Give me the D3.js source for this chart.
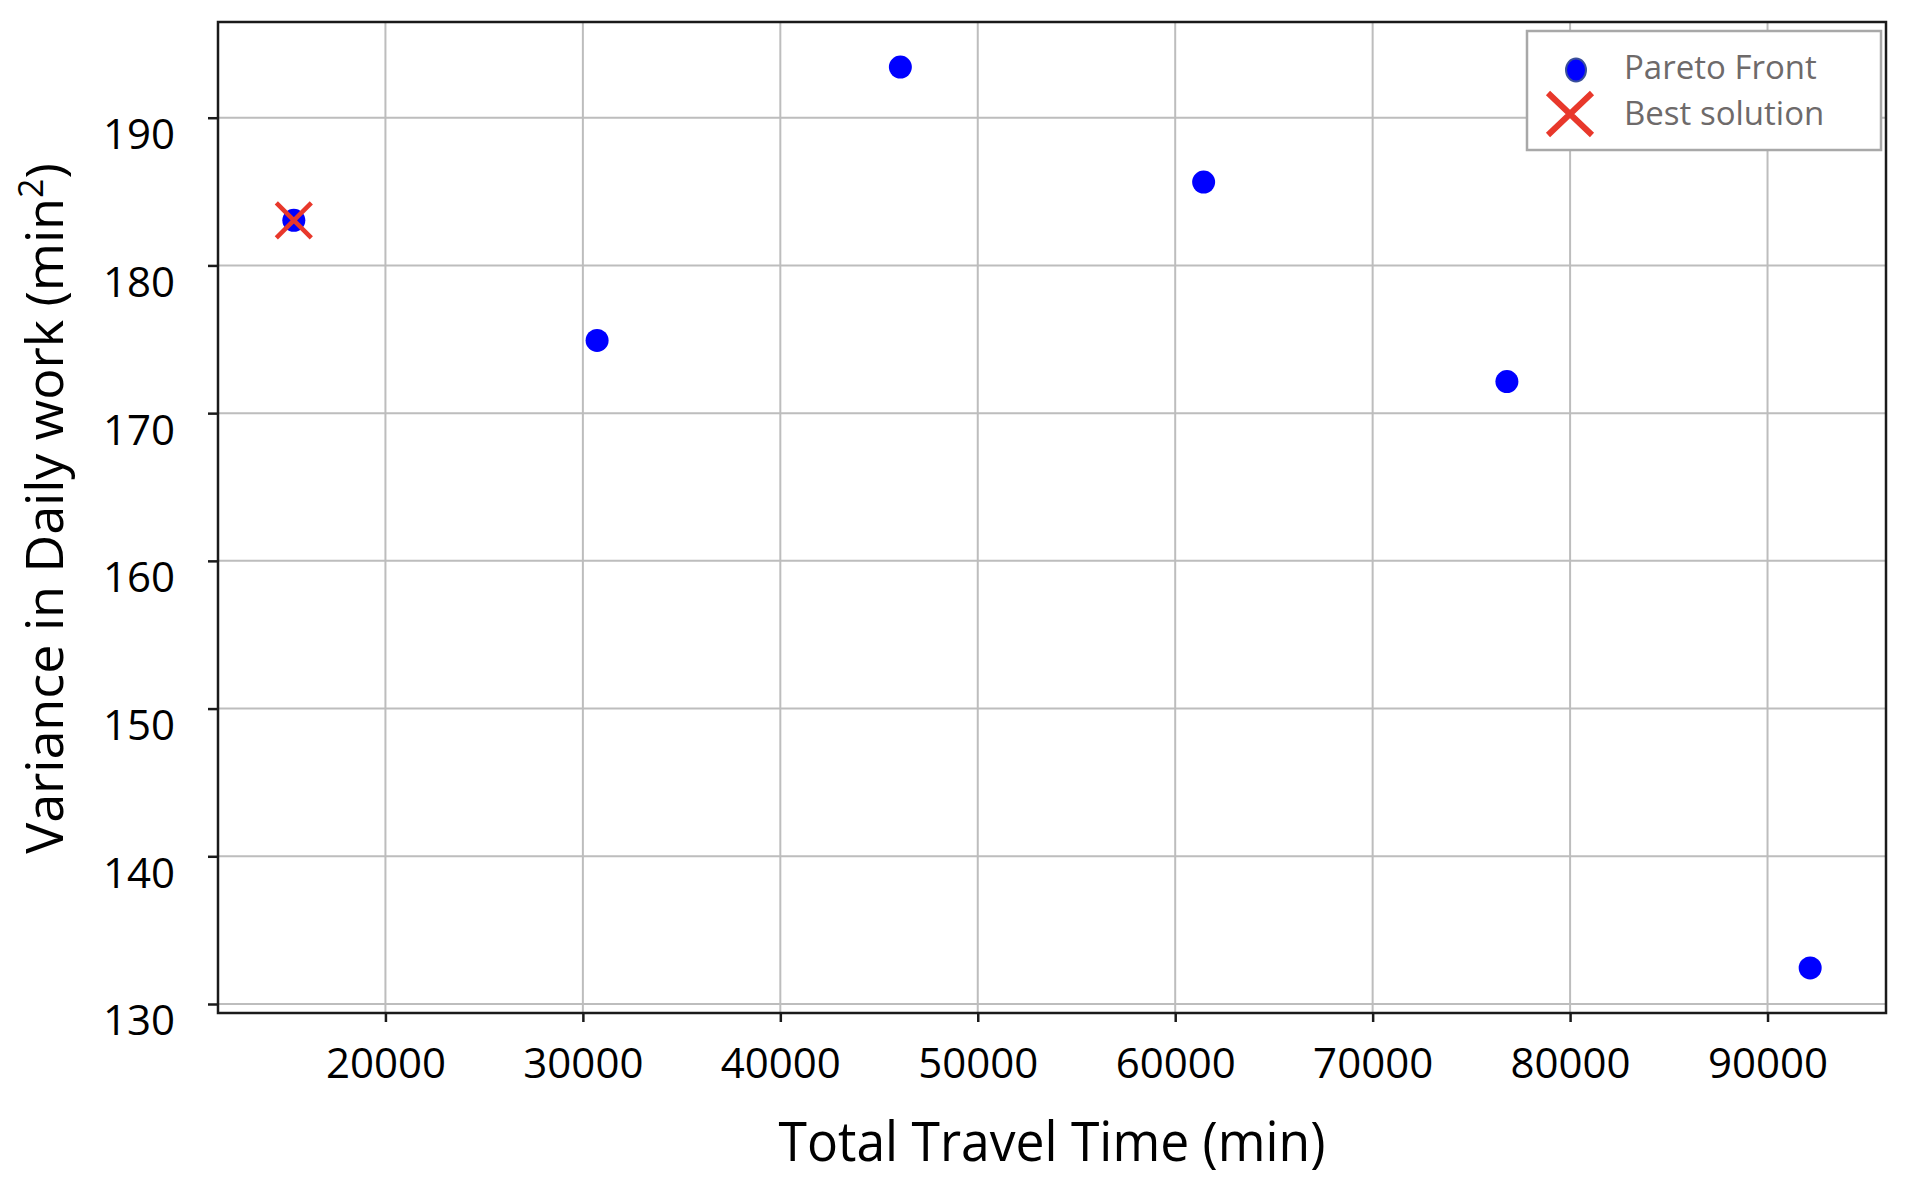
<!DOCTYPE html>
<html>
<head>
<meta charset="utf-8">
<script src="https://cdn.jsdelivr.net/npm/d3@7"></script>
<style>
  html, body { margin: 0; padding: 0; background: #ffffff; }
  svg { display: block; }
  text { font-family: "Open Sans", "Noto Sans", sans-serif; }
</style>
</head>
<body>
<svg id="chart" width="1906" height="1186"></svg>
<script>
// ---- data ----
const travelTime = [15360, 30720, 46080, 61440, 76800, 92160];
const dailyVariance = [183.05, 174.92, 193.43, 185.64, 172.14, 132.44];
const bestTravelTime = [15360];
const bestVariance = [183.05];
const xTickValues = [20000, 30000, 40000, 50000, 60000, 70000, 80000, 90000];
const yTickValues = [130, 140, 150, 160, 170, 180, 190];
const legendLabels = ["Pareto Front", "Best solution"];
const xLabel = "Total Travel Time (min)";
const yLabel = "Variance in Daily work (min";

// ---- layout ----
const W = 1906, H = 1186;
const plot = { left: 218, right: 1886, top: 22, bottom: 1013 };

const svg = d3.select("#chart");
svg.append("rect").attr("width", W).attr("height", H).attr("fill", "#ffffff");

function padded(vals) {
  const [a, b] = d3.extent(vals);
  const p = (b - a) * 0.05;
  return [a - p, b + p];
}

const x = d3.scaleLinear().domain(padded(travelTime)).range([plot.left, plot.right]);
const y = d3.scaleLinear().domain(padded(dailyVariance)).range([plot.bottom, plot.top]);

// grid
const grid = svg.append("g");
grid.selectAll("line.vx").data(xTickValues).join("line")
  .attr("x1", d => x(d)).attr("x2", d => x(d))
  .attr("y1", plot.top).attr("y2", plot.bottom)
  .attr("stroke", "#bdbdbd").attr("stroke-width", 2);
grid.selectAll("line.hy").data(yTickValues).join("line")
  .attr("y1", d => y(d)).attr("y2", d => y(d))
  .attr("x1", plot.left).attr("x2", plot.right)
  .attr("stroke", "#bdbdbd").attr("stroke-width", 2);

// axes
const xAxis = d3.axisBottom(x).tickValues(xTickValues).tickSize(9).tickPadding(0).tickFormat(d3.format("d"));
const yAxis = d3.axisLeft(y).tickValues(yTickValues).tickSize(10).tickPadding(0).tickFormat(d3.format("d"));

const gx = svg.append("g").attr("transform", `translate(0,${plot.bottom})`).call(xAxis);
const gy = svg.append("g").attr("transform", `translate(${plot.left},0)`).call(yAxis);
[gx, gy].forEach(g => {
  g.select(".domain").remove();
  g.selectAll(".tick line").attr("stroke", "#1a1a1a").attr("stroke-width", 2.5);
  g.selectAll(".tick text").attr("fill", "#000").attr("font-size", 42)
    .attr("font-family", "'Open Sans', sans-serif");
});
gx.selectAll(".tick text").attr("y", 0).attr("dy", 0)
  .attr("transform", "translate(0,65)").attr("text-anchor", "middle");
gy.selectAll(".tick text").attr("x", -43).attr("dy", 0)
  .attr("transform", "translate(0,31)").attr("text-anchor", "end");

// points
svg.append("g").selectAll("circle").data(travelTime).join("circle")
  .attr("cx", d => x(d))
  .attr("cy", (d, i) => y(dailyVariance[i]))
  .attr("r", 11.5)
  .attr("fill", "#0000ff");

// best solution cross
const cross = d3.symbol().type(d3.symbolX).size(1);
const arm = 17.5;
const bestG = svg.append("g");
bestTravelTime.forEach((bx, i) => {
  const cx = x(bx), cy = y(bestVariance[i]);
  bestG.append("path")
    .attr("d", `M${cx - arm},${cy - arm}L${cx + arm},${cy + arm}M${cx - arm},${cy + arm}L${cx + arm},${cy - arm}`)
    .attr("stroke", "#e8382b").attr("stroke-width", 4.5).attr("fill", "none");
});

// frame
svg.append("rect")
  .attr("x", plot.left).attr("y", plot.top)
  .attr("width", plot.right - plot.left).attr("height", plot.bottom - plot.top)
  .attr("fill", "none").attr("stroke", "#1a1a1a").attr("stroke-width", 2.5);

// legend
const lg = svg.append("g");
lg.append("rect").attr("x", 1527).attr("y", 31).attr("width", 354).attr("height", 119)
  .attr("fill", "#ffffff").attr("stroke", "#a8a8a8").attr("stroke-width", 2.5);
lg.append("ellipse").attr("cx", 1576).attr("cy", 70).attr("rx", 10).attr("ry", 11.5)
  .attr("fill", "#0000ff").attr("stroke", "#3a4f9a").attr("stroke-width", 2);
lg.append("path")
  .attr("d", "M1548,93L1592,135M1548,135L1592,93")
  .attr("stroke", "#e8382b").attr("stroke-width", 6).attr("fill", "none");
lg.selectAll("text").data(legendLabels).join("text")
  .attr("x", 1624).attr("y", (d, i) => 79 + i * 46)
  .attr("font-size", 33).attr("fill", "#6e6a6a")
  .text(d => d)
  .each(function(d, i) {
    const target = [197, 204][i];
    const len = this.getComputedTextLength();
    if (len > target) d3.select(this).attr("textLength", target).attr("lengthAdjust", "spacingAndGlyphs");
  });

// axis titles
const xt = svg.append("text")
  .attr("x", (plot.left + plot.right) / 2).attr("y", 1161)
  .attr("text-anchor", "middle").attr("font-size", 54).attr("fill", "#000")
  .text(xLabel);
{
  const len = xt.node().getComputedTextLength();
  if (len > 547) xt.attr("textLength", 547).attr("lengthAdjust", "spacingAndGlyphs");
}

const yt = svg.append("text")
  .attr("transform", `translate(63,${(plot.top + plot.bottom) / 2 - 9}) rotate(-90)`)
  .attr("text-anchor", "middle").attr("font-size", 52).attr("fill", "#000");
yt.append("tspan").text(yLabel);
yt.append("tspan").attr("font-size", 34).attr("dy", -20).text("2");
yt.append("tspan").attr("dy", 20).text(")");
{
  const len = yt.node().getComputedTextLength();
  if (len > 697) yt.attr("textLength", 697).attr("lengthAdjust", "spacingAndGlyphs");
}
</script>
</body>
</html>
